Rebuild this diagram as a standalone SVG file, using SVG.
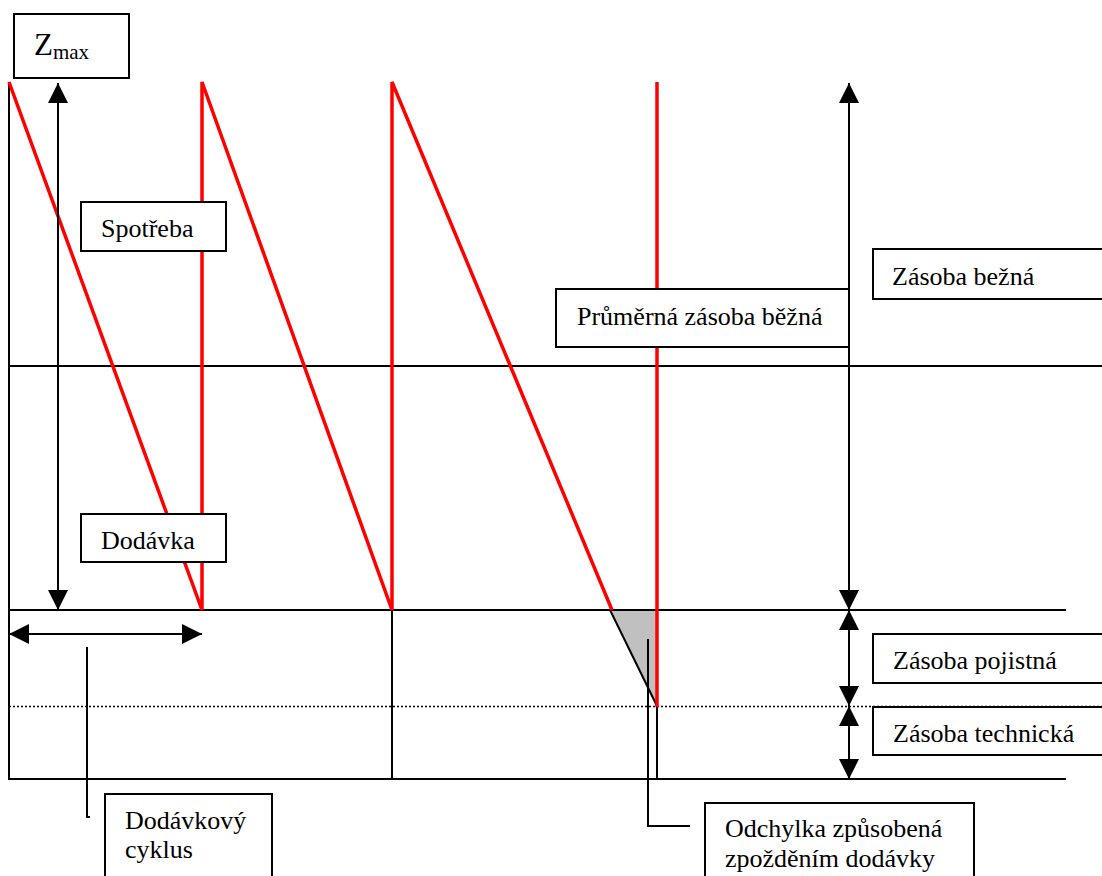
<svg xmlns="http://www.w3.org/2000/svg" width="1102" height="876" viewBox="0 0 1102 876">
  <style>
    .box { fill: #ffffff; stroke: #000000; stroke-width: 2; }
    .lbl { font-family: 'Liberation Serif', 'Times New Roman', Times, 'DejaVu Serif', serif; font-size: 26px; fill: #000000; }
    .ln { stroke: #000000; stroke-width: 2; fill: none; }
    .dot { stroke: #000000; stroke-width: 1.3; stroke-dasharray: 2 2; fill: none; }
    .red { stroke: #ff0000; stroke-width: 3.5; fill: none; stroke-linejoin: miter; }
    .arr { stroke: #000000; stroke-width: 2; fill: none; marker-start: url(#head); marker-end: url(#head); }
  </style>
  <defs>
    <marker id="head" markerUnits="userSpaceOnUse" markerWidth="20" markerHeight="20" refX="20" refY="10" orient="auto-start-reverse">
      <path d="M0,0 L20,10 L0,20 z" fill="#000000"/>
    </marker>
  </defs>
  <rect width="1102" height="876" fill="#ffffff"/>

  <g id="connectors">
    <!-- level lines -->
    <line class="ln" x1="9" y1="82" x2="9" y2="780"/>
    <line class="ln" x1="9" y1="366" x2="1102" y2="366"/>
    <line class="ln" x1="8" y1="610" x2="1066" y2="610"/>
    <line class="dot" x1="9" y1="706.5" x2="1102" y2="706.5"/>
    <line class="ln" x1="8" y1="779" x2="1066" y2="779"/>
    <line class="ln" x1="392" y1="610" x2="392" y2="779"/>
    <line class="ln" x1="657" y1="706" x2="657" y2="779"/>

    <!-- delay deviation triangle -->
    <polygon points="610,610 657,610 657,706" fill="#c0c0c0" stroke="#000000" stroke-width="2"/>

    <!-- stock sawtooth -->
    <polyline class="red" points="9,82 202,610 202,82 392,610 392,82 612,610"/>
    <line class="red" x1="657" y1="82" x2="657" y2="707"/>

    <!-- dimension arrows -->
    <line class="arr" x1="58" y1="83" x2="58" y2="610"/>
    <line class="arr" x1="9" y1="634" x2="202" y2="634"/>
    <line class="arr" x1="849" y1="83" x2="849" y2="610"/>
    <line class="arr" x1="849" y1="610" x2="849" y2="706"/>
    <line class="arr" x1="849" y1="706" x2="849" y2="779"/>

    <!-- leaders -->
    <polyline class="ln" points="87,647 87,817 90,817"/>
    <polyline class="ln" points="648,639 648,826 690,826"/>
  </g>

  <g id="zmax">
    <rect class="box" x="14" y="14" width="115" height="64"/>
    <text class="lbl" x="34" y="55" style="font-size:31px">Z<tspan style="font-size:21px" dy="4">max</tspan></text>
  </g>

  <g id="spotreba">
    <rect class="box" x="81" y="202" width="145" height="49"/>
    <text class="lbl" x="101" y="237">Spotřeba</text>
  </g>

  <g id="dodavka">
    <rect class="box" x="81" y="514" width="145" height="48"/>
    <text class="lbl" x="101" y="549">Dodávka</text>
  </g>

  <g id="prumerna-zasoba">
    <rect class="box" x="556" y="289" width="293" height="58"/>
    <text class="lbl" x="577" y="325">Průměrná zásoba běžná</text>
  </g>

  <g id="zasoba-bezna">
    <rect class="box" x="873" y="249" width="240" height="50"/>
    <text class="lbl" x="892" y="285">Zásoba bežná</text>
  </g>

  <g id="zasoba-pojistna">
    <rect class="box" x="873" y="634" width="240" height="49"/>
    <text class="lbl" x="893" y="669">Zásoba pojistná</text>
  </g>

  <g id="zasoba-technicka">
    <rect class="box" x="873" y="707" width="240" height="48"/>
    <text class="lbl" x="893" y="742">Zásoba technická</text>
  </g>

  <g id="dodavkovy-cyklus">
    <rect class="box" x="105" y="794" width="167" height="88"/>
    <text class="lbl" x="125" y="829">Dodávkový</text>
    <text class="lbl" x="125" y="858">cyklus</text>
  </g>

  <g id="odchylka">
    <rect class="box" x="705" y="803" width="269" height="80"/>
    <text class="lbl" x="725" y="837">Odchylka způsobená</text>
    <text class="lbl" x="725" y="867">zpožděním dodávky</text>
  </g>
</svg>
